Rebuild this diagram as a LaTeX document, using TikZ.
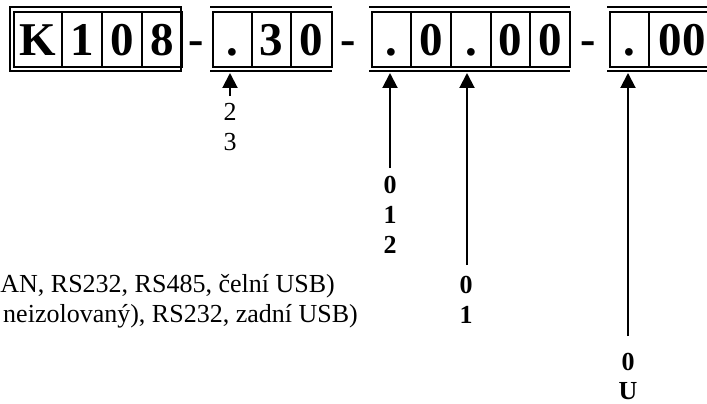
\documentclass[tikz,border=0pt]{standalone}
\usepackage{fontspec}
\setmainfont{Liberation Serif}
\usetikzlibrary{arrows.meta}
\begin{document}
\begin{tikzpicture}[x=1pt,y=-1pt,
  cell/.style={draw, line width=2pt, minimum height=55pt, inner sep=0pt, anchor=west,
    font=\bfseries\fontsize{47}{50}\selectfont, text height=32pt, text depth=0pt},
  frame/.style={line width=2pt},
  dashtxt/.style={anchor=base, inner sep=0pt, font=\bfseries\fontsize{46}{50}\selectfont},
  lbl/.style={anchor=base, inner sep=0pt, font=\fontsize{26}{30}\selectfont},
  blbl/.style={anchor=base, inner sep=0pt, font=\bfseries\fontsize{26}{30}\selectfont},
  txt/.style={anchor=base east, inner sep=0pt, font=\fontsize{26}{30}\selectfont},
  arr/.style={line width=2pt, -{Triangle[length=15pt,width=15pt]}}]
\useasboundingbox (0,0) rectangle (707,404);
% group 1
\draw[frame] (9.5,7.5) rectangle (181,71.5);
\node[cell, minimum width=48pt] (k1) at (13,39.5) {K};
\node[cell, minimum width=40pt] (k2) at (61,39.5) {1};
\node[cell, minimum width=40pt] (k3) at (101,39.5) {0};
\node[cell, minimum width=40pt] (k4) at (141,39.5) {8};
\node[dashtxt] (d1) at (196.5,55) {-};
% group 2
\draw[frame] (210,7.5) -- (332,7.5);
\draw[frame] (210,71.5) -- (332,71.5);
\node[cell, minimum width=39.5pt] (b1) at (211.5,39.5) {.};
\node[cell, minimum width=39pt] (b2) at (251,39.5) {3};
\node[cell, minimum width=41pt] (b3) at (290,39.5) {0};
\node[dashtxt] (d2) at (348,55) {-};
% group 3
\draw[frame] (369,7.5) -- (570,7.5);
\draw[frame] (369,71.5) -- (570,71.5);
\node[cell, minimum width=39.5pt] (c1) at (370.5,39.5) {.};
\node[cell, minimum width=40pt] (c2) at (410,39.5) {0};
\node[cell, minimum width=40pt] (c3) at (450,39.5) {.};
\node[cell, minimum width=39pt] (c4) at (490,39.5) {0};
\node[cell, minimum width=40pt] (c5) at (529,39.5) {0};
\node[dashtxt] (d3) at (588,55) {-};
% group 4
\draw[frame] (607,7.5) -- (720,7.5);
\draw[frame] (607,71.5) -- (720,71.5);
\node[cell, minimum width=39.5pt] (e1) at (608.5,39.5) {.};
\node[cell, minimum width=66pt] (e2) at (648,39.5) {00};
% arrow tips
\coordinate (t1) at (230,73);
\coordinate (t2) at (390,73);
\coordinate (t3) at (467,73);
\coordinate (t4) at (628,73);
\coordinate (s1) at (230,96);
\coordinate (s2) at (390,168);
\coordinate (s3) at (467,265);
\coordinate (s4) at (628,336);
\draw[arr] (s1) -- (t1);
\draw[arr] (s2) -- (t2);
\draw[arr] (s3) -- (t3);
\draw[arr] (s4) -- (t4);
% labels
\node[lbl] (l2) at (230,120) {2};
\node[lbl] (l3) at (230,150) {3};
\node[blbl] (m0) at (390,193) {0};
\node[blbl] (m1) at (390,223) {1};
\node[blbl] (m2) at (390,253) {2};
\node[blbl] (n0) at (466,293) {0};
\node[blbl] (n1) at (466,323) {1};
\node[blbl] (p0) at (628,370) {0};
\node[blbl] (pU) at (628,399) {U};
\node[txt] (r1) at (335,292) {AN, RS232, RS485, čelní USB)};
\node[txt] (r2) at (358,322) {neizolovaný), RS232, zadní USB)};
\end{tikzpicture}
\end{document}
